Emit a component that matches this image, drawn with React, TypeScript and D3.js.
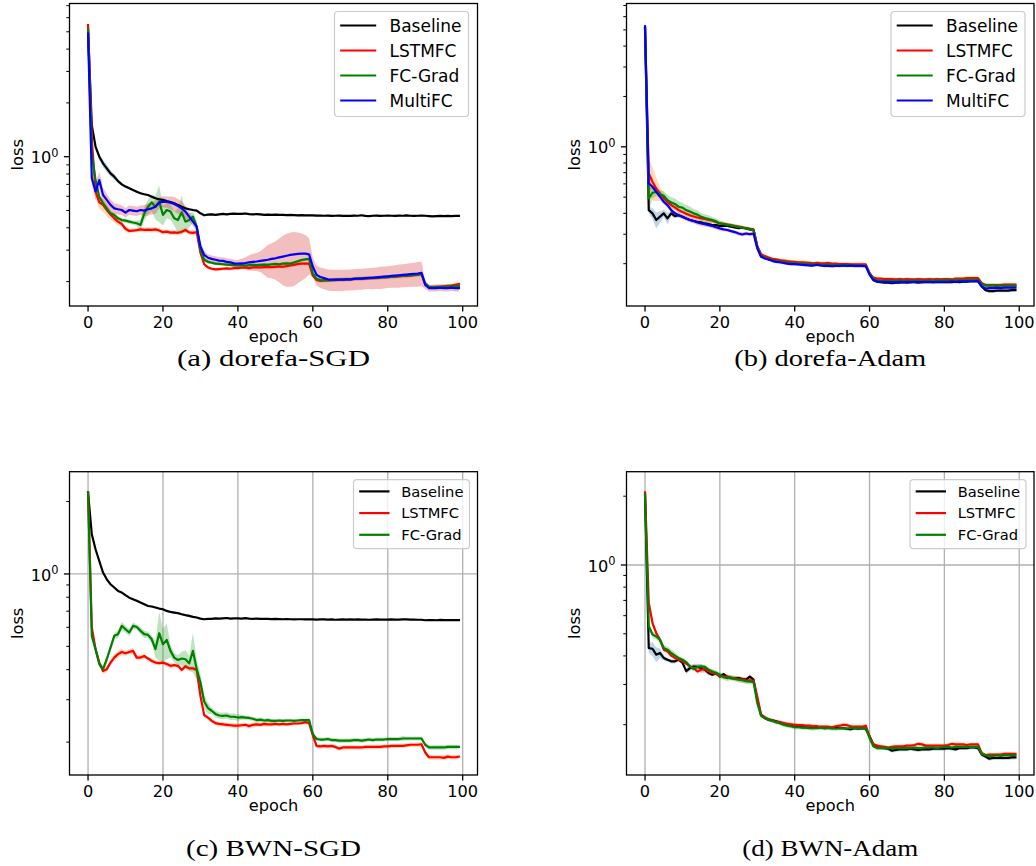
import React from 'react';
import * as d3 from 'd3';

// ---- data: mean loss per epoch (0..99) and its std ----

const A_BASELINE = [5.11,1.50,1.14,1.00,0.918,0.861,0.807,0.773,0.730,0.700,
  0.680,0.665,0.651,0.637,0.624,0.616,0.610,0.597,0.585,0.577,
  0.573,0.565,0.558,0.548,0.537,0.525,0.514,0.508,0.503,0.499,
  0.482,0.470,0.474,0.476,0.472,0.476,0.478,0.476,0.479,0.480,
  0.478,0.479,0.481,0.477,0.476,0.477,0.475,0.473,0.474,0.473,
  0.474,0.472,0.473,0.471,0.472,0.471,0.470,0.471,0.469,0.470,
  0.469,0.468,0.468,0.467,0.468,0.466,0.467,0.468,0.466,0.467,
  0.466,0.468,0.467,0.470,0.466,0.465,0.467,0.468,0.466,0.467,
  0.468,0.467,0.466,0.468,0.467,0.469,0.467,0.466,0.467,0.468,
  0.467,0.465,0.463,0.465,0.466,0.465,0.466,0.465,0.466,0.466];
const A_LSTMFC = [5.45,1.25,0.640,0.555,0.537,0.503,0.475,0.452,0.433,0.420,
  0.395,0.384,0.386,0.388,0.392,0.389,0.391,0.389,0.392,0.386,
  0.378,0.381,0.376,0.377,0.375,0.380,0.389,0.377,0.375,0.378,
  0.290,0.250,0.240,0.236,0.234,0.235,0.236,0.237,0.236,0.238,
  0.238,0.239,0.240,0.238,0.240,0.241,0.240,0.241,0.242,0.241,
  0.242,0.243,0.242,0.244,0.246,0.248,0.251,0.252,0.252,0.252,
  0.216,0.204,0.202,0.203,0.203,0.204,0.204,0.205,0.205,0.206,
  0.206,0.207,0.207,0.208,0.208,0.209,0.209,0.210,0.211,0.211,
  0.212,0.213,0.213,0.214,0.215,0.215,0.216,0.217,0.218,0.220,
  0.192,0.186,0.186,0.187,0.187,0.188,0.189,0.190,0.192,0.194];
const A_FCGRAD = [5.15,1.05,0.740,0.597,0.548,0.514,0.482,0.472,0.452,0.442,
  0.439,0.433,0.428,0.424,0.415,0.480,0.525,0.555,0.525,0.560,
  0.472,0.503,0.493,0.452,0.442,0.488,0.433,0.442,0.462,0.406,
  0.300,0.265,0.258,0.255,0.252,0.251,0.250,0.249,0.248,0.247,
  0.246,0.247,0.246,0.247,0.248,0.247,0.248,0.249,0.248,0.250,
  0.251,0.250,0.252,0.253,0.252,0.256,0.260,0.264,0.266,0.268,
  0.222,0.207,0.204,0.203,0.204,0.204,0.205,0.205,0.205,0.206,
  0.206,0.207,0.208,0.208,0.209,0.209,0.210,0.210,0.211,0.212,
  0.212,0.213,0.214,0.215,0.216,0.216,0.217,0.218,0.219,0.221,
  0.195,0.187,0.186,0.186,0.186,0.187,0.187,0.188,0.188,0.189];
const A_MULTIFC = [4.89,0.757,0.640,0.740,0.610,0.573,0.537,0.514,0.508,0.503,
  0.486,0.503,0.499,0.495,0.503,0.499,0.508,0.514,0.525,0.553,
  0.560,0.558,0.553,0.544,0.530,0.514,0.493,0.462,0.433,0.406,
  0.314,0.282,0.272,0.268,0.265,0.262,0.261,0.258,0.256,0.253,
  0.252,0.253,0.254,0.256,0.258,0.259,0.261,0.263,0.265,0.268,
  0.270,0.273,0.276,0.279,0.282,0.284,0.286,0.287,0.287,0.284,
  0.242,0.218,0.212,0.209,0.206,0.205,0.205,0.205,0.205,0.206,
  0.206,0.207,0.208,0.208,0.209,0.210,0.210,0.211,0.212,0.213,
  0.214,0.215,0.216,0.217,0.218,0.219,0.220,0.221,0.222,0.224,
  0.192,0.184,0.184,0.184,0.185,0.184,0.184,0.185,0.184,0.184];

const A_BASELINE_SD = [0.12,0.05,0.04,0.045,0.045,0.04,0.035,0.03,0.02,0.015,
  0.012,0.01,0.01,0.008,0.008,0.008,0.008,0.008,0.008,0.008,
  0.008,0.008,0.008,0.008,0.008,0.008,0.008,0.008,0.008,0.008,
  0.008,0.006,0.006,0.006,0.006,0.006,0.006,0.006,0.006,0.006,
  0.006,0.006,0.006,0.006,0.006,0.006,0.006,0.006,0.006,0.006,
  0.006,0.006,0.006,0.006,0.006,0.006,0.006,0.006,0.006,0.006,
  0.005,0.005,0.005,0.005,0.005,0.005,0.005,0.005,0.005,0.005,
  0.005,0.005,0.005,0.005,0.005,0.005,0.005,0.005,0.005,0.005,
  0.005,0.005,0.005,0.005,0.005,0.005,0.005,0.005,0.005,0.005,
  0.005,0.005,0.005,0.005,0.005,0.005,0.005,0.005,0.005,0.005];
const A_LSTMFC_SD = [0.3,0.1,0.05,0.045,0.045,0.04,0.03,0.025,0.02,0.015,
  0.015,0.012,0.01,0.01,0.012,0.012,0.012,0.012,0.012,0.012,
  0.012,0.012,0.012,0.012,0.012,0.012,0.012,0.012,0.012,0.015,
  0.01,0.006,0.005,0.005,0.005,0.005,0.005,0.005,0.005,0.005,
  0.005,0.005,0.005,0.005,0.005,0.005,0.005,0.005,0.005,0.005,
  0.005,0.005,0.005,0.005,0.005,0.005,0.005,0.005,0.005,0.005,
  0.005,0.005,0.005,0.005,0.005,0.005,0.005,0.005,0.005,0.005,
  0.005,0.005,0.005,0.005,0.005,0.005,0.005,0.005,0.005,0.005,
  0.005,0.005,0.005,0.005,0.005,0.005,0.005,0.005,0.005,0.005,
  0.005,0.005,0.005,0.005,0.005,0.005,0.005,0.005,0.005,0.005];
const A_FCGRAD_SD = [0.2,0.05,0.03,0.02,0.02,0.02,0.015,0.015,0.012,0.012,
  0.012,0.012,0.012,0.015,0.03,0.04,0.05,0.06,0.08,0.13,
  0.06,0.05,0.05,0.04,0.07,0.12,0.05,0.04,0.03,0.03,
  0.02,0.008,0.006,0.005,0.005,0.005,0.005,0.005,0.005,0.005,
  0.005,0.005,0.005,0.005,0.005,0.005,0.005,0.005,0.005,0.005,
  0.005,0.005,0.005,0.005,0.005,0.005,0.005,0.005,0.005,0.005,
  0.005,0.005,0.005,0.005,0.005,0.005,0.005,0.005,0.005,0.005,
  0.005,0.005,0.005,0.005,0.005,0.005,0.005,0.005,0.005,0.005,
  0.005,0.005,0.005,0.005,0.005,0.005,0.005,0.005,0.005,0.005,
  0.005,0.005,0.005,0.005,0.005,0.005,0.005,0.005,0.005,0.005];
const A_MULTIFC_SD = [0.2,0.06,0.07,0.08,0.06,0.05,0.04,0.035,0.035,0.03,
  0.03,0.03,0.03,0.03,0.03,0.035,0.04,0.04,0.045,0.04,
  0.04,0.04,0.045,0.05,0.05,0.05,0.04,0.03,0.025,0.02,
  0.02,0.015,0.012,0.012,0.012,0.012,0.012,0.012,0.012,0.012,
  0.012,0.015,0.02,0.025,0.028,0.03,0.035,0.045,0.055,0.06,
  0.065,0.075,0.085,0.092,0.095,0.095,0.09,0.085,0.078,0.065,
  0.03,0.028,0.028,0.028,0.028,0.028,0.028,0.028,0.028,0.028,
  0.028,0.028,0.028,0.028,0.028,0.028,0.029,0.029,0.03,0.03,
  0.03,0.03,0.031,0.032,0.032,0.033,0.033,0.034,0.035,0.035,
  0.01,0.008,0.008,0.008,0.008,0.008,0.008,0.008,0.008,0.008];

const B_BASELINE = [5.15,0.418,0.400,0.365,0.382,0.400,0.373,0.400,0.385,0.390,
  0.382,0.373,0.365,0.360,0.356,0.353,0.348,0.345,0.340,0.340,
  0.336,0.337,0.336,0.333,0.329,0.326,0.328,0.325,0.321,0.318,
  0.253,0.225,0.217,0.213,0.210,0.208,0.206,0.205,0.203,0.202,
  0.201,0.200,0.200,0.199,0.198,0.198,0.197,0.197,0.196,0.197,
  0.196,0.196,0.195,0.196,0.195,0.195,0.196,0.195,0.195,0.195,
  0.174,0.160,0.156,0.155,0.154,0.154,0.153,0.154,0.154,0.155,
  0.154,0.155,0.155,0.154,0.155,0.155,0.155,0.155,0.155,0.155,
  0.155,0.155,0.155,0.156,0.155,0.156,0.156,0.157,0.157,0.157,
  0.146,0.139,0.137,0.137,0.138,0.138,0.138,0.138,0.139,0.139];
const B_LSTMFC = [5.10,0.693,0.618,0.563,0.526,0.491,0.469,0.448,0.434,0.418,
  0.407,0.398,0.390,0.383,0.378,0.373,0.370,0.365,0.361,0.355,
  0.348,0.346,0.343,0.340,0.336,0.333,0.330,0.326,0.323,0.321,
  0.255,0.228,0.222,0.218,0.214,0.212,0.210,0.209,0.207,0.206,
  0.205,0.204,0.204,0.203,0.202,0.201,0.202,0.201,0.201,0.202,
  0.200,0.200,0.199,0.199,0.199,0.198,0.198,0.198,0.198,0.198,
  0.176,0.165,0.163,0.163,0.162,0.162,0.162,0.161,0.162,0.161,
  0.162,0.161,0.161,0.162,0.161,0.161,0.162,0.161,0.162,0.161,
  0.162,0.162,0.161,0.163,0.163,0.163,0.164,0.164,0.164,0.164,
  0.153,0.149,0.149,0.149,0.149,0.149,0.150,0.150,0.150,0.150];
const B_FCGRAD = [5.15,0.491,0.531,0.538,0.520,0.510,0.480,0.465,0.455,0.438,
  0.433,0.418,0.410,0.400,0.393,0.382,0.375,0.370,0.365,0.358,
  0.348,0.345,0.342,0.338,0.335,0.331,0.328,0.326,0.322,0.318,
  0.250,0.222,0.217,0.213,0.210,0.208,0.206,0.205,0.203,0.202,
  0.201,0.200,0.200,0.199,0.199,0.198,0.198,0.197,0.197,0.197,
  0.197,0.196,0.196,0.196,0.196,0.196,0.195,0.195,0.195,0.195,
  0.175,0.162,0.159,0.158,0.158,0.158,0.158,0.158,0.159,0.158,
  0.158,0.158,0.159,0.158,0.158,0.158,0.159,0.158,0.159,0.159,
  0.159,0.159,0.159,0.159,0.160,0.159,0.160,0.160,0.160,0.160,
  0.151,0.148,0.148,0.148,0.148,0.148,0.148,0.148,0.148,0.148];
const B_MULTIFC = [5.26,0.604,0.577,0.538,0.503,0.469,0.448,0.418,0.400,0.390,
  0.382,0.373,0.365,0.360,0.353,0.348,0.345,0.340,0.336,0.330,
  0.325,0.321,0.318,0.313,0.309,0.303,0.299,0.303,0.300,0.303,
  0.247,0.220,0.215,0.212,0.208,0.205,0.204,0.202,0.200,0.199,
  0.199,0.198,0.197,0.196,0.195,0.195,0.197,0.195,0.194,0.194,
  0.193,0.194,0.194,0.195,0.194,0.195,0.194,0.194,0.194,0.193,
  0.172,0.160,0.157,0.156,0.156,0.156,0.155,0.155,0.156,0.155,
  0.156,0.155,0.156,0.156,0.155,0.156,0.156,0.155,0.156,0.156,
  0.156,0.156,0.157,0.156,0.157,0.157,0.157,0.157,0.157,0.158,
  0.146,0.142,0.143,0.143,0.144,0.143,0.144,0.144,0.144,0.144];

const B_BASELINE_SD = [0.1,0.02,0.03,0.04,0.03,0.02,0.03,0.015,0.012,0.01,
  0.008,0.006,0.006,0.005,0.005,0.005,0.005,0.005,0.005,0.005,
  0.005,0.005,0.005,0.005,0.005,0.005,0.005,0.005,0.005,0.005,
  0.004,0.004,0.004,0.004,0.004,0.004,0.004,0.004,0.004,0.004,
  0.004,0.004,0.004,0.004,0.004,0.004,0.004,0.004,0.004,0.004,
  0.004,0.004,0.004,0.004,0.004,0.004,0.004,0.004,0.004,0.004,
  0.003,0.003,0.003,0.003,0.003,0.003,0.003,0.003,0.003,0.003,
  0.003,0.003,0.003,0.003,0.003,0.003,0.003,0.003,0.003,0.003,
  0.003,0.003,0.003,0.003,0.003,0.003,0.003,0.003,0.003,0.003,
  0.003,0.003,0.003,0.003,0.003,0.003,0.003,0.003,0.003,0.003];
const B_LSTMFC_SD = [0.3,0.15,0.14,0.09,0.05,0.035,0.025,0.02,0.018,0.016,
  0.015,0.015,0.015,0.015,0.015,0.013,0.012,0.012,0.01,0.01,
  0.008,0.008,0.008,0.008,0.008,0.008,0.008,0.008,0.008,0.008,
  0.005,0.005,0.005,0.005,0.005,0.005,0.005,0.005,0.005,0.005,
  0.005,0.005,0.005,0.005,0.005,0.005,0.005,0.005,0.005,0.005,
  0.005,0.005,0.005,0.005,0.005,0.005,0.005,0.005,0.005,0.005,
  0.004,0.004,0.004,0.004,0.004,0.004,0.004,0.004,0.004,0.004,
  0.004,0.004,0.004,0.004,0.004,0.004,0.004,0.004,0.004,0.004,
  0.004,0.004,0.004,0.004,0.004,0.004,0.004,0.004,0.004,0.004,
  0.004,0.004,0.004,0.004,0.004,0.004,0.004,0.004,0.004,0.004];
const B_FCGRAD_SD = [0.2,0.08,0.04,0.03,0.03,0.035,0.035,0.035,0.035,0.035,
  0.03,0.03,0.03,0.025,0.025,0.02,0.02,0.02,0.015,0.015,
  0.015,0.012,0.01,0.01,0.01,0.01,0.008,0.008,0.008,0.008,
  0.005,0.005,0.005,0.005,0.005,0.005,0.005,0.005,0.005,0.005,
  0.005,0.005,0.005,0.005,0.005,0.005,0.005,0.005,0.005,0.005,
  0.005,0.005,0.005,0.005,0.005,0.005,0.005,0.005,0.005,0.005,
  0.004,0.004,0.004,0.004,0.004,0.004,0.004,0.004,0.004,0.004,
  0.004,0.004,0.004,0.004,0.004,0.004,0.004,0.004,0.004,0.004,
  0.004,0.004,0.004,0.004,0.004,0.004,0.004,0.004,0.004,0.004,
  0.004,0.004,0.004,0.004,0.004,0.004,0.004,0.004,0.004,0.004];
const B_MULTIFC_SD = [0.2,0.05,0.02,0.015,0.015,0.015,0.015,0.012,0.012,0.012,
  0.012,0.012,0.012,0.012,0.012,0.012,0.012,0.01,0.01,0.01,
  0.01,0.008,0.008,0.008,0.008,0.008,0.008,0.008,0.008,0.008,
  0.004,0.004,0.004,0.004,0.004,0.004,0.004,0.004,0.004,0.004,
  0.004,0.004,0.004,0.004,0.004,0.004,0.004,0.004,0.004,0.004,
  0.004,0.004,0.004,0.004,0.004,0.004,0.004,0.004,0.004,0.004,
  0.003,0.003,0.003,0.003,0.003,0.003,0.003,0.003,0.003,0.003,
  0.003,0.003,0.003,0.003,0.003,0.003,0.003,0.003,0.003,0.003,
  0.003,0.003,0.003,0.003,0.003,0.003,0.003,0.003,0.003,0.003,
  0.003,0.003,0.003,0.003,0.003,0.003,0.003,0.003,0.003,0.003];

const C_BASELINE = [2.18,1.461,1.266,1.132,1.013,0.950,0.906,0.878,0.850,0.837,
  0.816,0.797,0.785,0.773,0.760,0.748,0.736,0.732,0.725,0.718,
  0.713,0.702,0.695,0.691,0.687,0.680,0.674,0.669,0.663,0.659,
  0.652,0.648,0.650,0.650,0.654,0.652,0.654,0.656,0.652,0.654,
  0.654,0.652,0.655,0.652,0.651,0.652,0.650,0.651,0.650,0.649,
  0.650,0.649,0.648,0.649,0.648,0.647,0.648,0.648,0.647,0.648,
  0.647,0.646,0.647,0.647,0.646,0.647,0.645,0.646,0.647,0.646,
  0.647,0.646,0.647,0.646,0.646,0.645,0.646,0.647,0.646,0.646,
  0.646,0.647,0.646,0.646,0.647,0.647,0.646,0.646,0.645,0.645,
  0.642,0.643,0.643,0.642,0.644,0.643,0.643,0.643,0.643,0.643];
const C_LSTMFC = [2.18,0.600,0.487,0.428,0.395,0.402,0.428,0.449,0.464,0.474,
  0.468,0.474,0.479,0.449,0.449,0.456,0.445,0.435,0.428,0.426,
  0.428,0.422,0.415,0.418,0.415,0.399,0.413,0.405,0.405,0.399,
  0.311,0.259,0.253,0.245,0.240,0.238,0.237,0.236,0.235,0.234,
  0.234,0.235,0.236,0.233,0.236,0.237,0.236,0.238,0.237,0.237,
  0.238,0.237,0.238,0.237,0.238,0.239,0.239,0.240,0.242,0.240,
  0.213,0.193,0.192,0.193,0.192,0.193,0.191,0.188,0.190,0.190,
  0.190,0.190,0.190,0.190,0.191,0.191,0.191,0.191,0.191,0.192,
  0.192,0.193,0.193,0.193,0.193,0.194,0.195,0.195,0.195,0.196,
  0.181,0.173,0.173,0.173,0.173,0.172,0.174,0.173,0.173,0.174];
const C_FCGRAD = [2.19,0.553,0.487,0.422,0.402,0.442,0.494,0.553,0.562,0.608,
  0.589,0.571,0.608,0.602,0.580,0.562,0.558,0.535,0.487,0.567,
  0.510,0.532,0.479,0.449,0.439,0.445,0.442,0.425,0.479,0.402,
  0.354,0.295,0.277,0.270,0.262,0.258,0.257,0.258,0.255,0.255,
  0.253,0.254,0.253,0.252,0.250,0.247,0.248,0.246,0.247,0.245,
  0.245,0.246,0.245,0.246,0.246,0.245,0.246,0.247,0.247,0.247,
  0.216,0.206,0.205,0.205,0.206,0.204,0.204,0.203,0.203,0.203,
  0.203,0.204,0.204,0.203,0.204,0.205,0.204,0.205,0.205,0.205,
  0.206,0.206,0.206,0.206,0.207,0.207,0.207,0.207,0.207,0.207,
  0.195,0.190,0.190,0.190,0.190,0.190,0.191,0.191,0.191,0.191];

const C_BASELINE_SD = [0.02,0.01,0.008,0.008,0.008,0.006,0.006,0.006,0.006,0.006,
  0.006,0.006,0.006,0.006,0.006,0.006,0.006,0.006,0.006,0.006,
  0.006,0.006,0.006,0.006,0.006,0.006,0.006,0.006,0.006,0.006,
  0.004,0.004,0.004,0.004,0.004,0.004,0.004,0.004,0.004,0.004,
  0.004,0.004,0.004,0.004,0.004,0.004,0.004,0.004,0.004,0.004,
  0.004,0.004,0.004,0.004,0.004,0.004,0.004,0.004,0.004,0.004,
  0.004,0.004,0.004,0.004,0.004,0.004,0.004,0.004,0.004,0.004,
  0.004,0.004,0.004,0.004,0.004,0.004,0.004,0.004,0.004,0.004,
  0.004,0.004,0.004,0.004,0.004,0.004,0.004,0.004,0.004,0.004,
  0.004,0.004,0.004,0.004,0.004,0.004,0.004,0.004,0.004,0.004];
const C_LSTMFC_SD = [0.05,0.02,0.015,0.012,0.012,0.012,0.012,0.012,0.015,0.015,
  0.012,0.012,0.015,0.012,0.012,0.01,0.01,0.01,0.01,0.01,
  0.01,0.01,0.01,0.008,0.008,0.01,0.008,0.008,0.008,0.008,
  0.008,0.006,0.005,0.005,0.005,0.005,0.005,0.005,0.005,0.006,
  0.006,0.005,0.005,0.005,0.006,0.006,0.005,0.005,0.005,0.005,
  0.004,0.004,0.004,0.004,0.004,0.004,0.004,0.004,0.004,0.004,
  0.004,0.004,0.004,0.004,0.004,0.004,0.004,0.004,0.004,0.004,
  0.004,0.004,0.004,0.004,0.004,0.004,0.004,0.004,0.004,0.004,
  0.004,0.004,0.004,0.004,0.004,0.004,0.004,0.004,0.004,0.004,
  0.004,0.004,0.004,0.004,0.004,0.004,0.004,0.004,0.004,0.004];
const C_FCGRAD_SD = [0.05,0.02,0.015,0.012,0.012,0.015,0.015,0.015,0.02,0.025,
  0.02,0.02,0.02,0.015,0.02,0.02,0.015,0.02,0.04,0.13,
  0.08,0.09,0.03,0.02,0.02,0.03,0.04,0.03,0.09,0.04,
  0.03,0.02,0.015,0.008,0.008,0.008,0.008,0.008,0.008,0.008,
  0.008,0.006,0.005,0.005,0.005,0.005,0.005,0.005,0.005,0.005,
  0.004,0.004,0.004,0.004,0.004,0.004,0.004,0.004,0.004,0.004,
  0.004,0.004,0.004,0.004,0.004,0.004,0.004,0.004,0.004,0.004,
  0.004,0.004,0.004,0.004,0.004,0.004,0.004,0.004,0.004,0.004,
  0.004,0.004,0.004,0.004,0.005,0.004,0.004,0.004,0.004,0.004,
  0.004,0.004,0.004,0.004,0.004,0.004,0.004,0.004,0.004,0.004];

const D_BASELINE = [2.05,0.433,0.430,0.405,0.412,0.392,0.385,0.379,0.379,0.385,
  0.374,0.343,0.354,0.360,0.358,0.354,0.348,0.337,0.331,0.337,
  0.325,0.333,0.323,0.320,0.320,0.320,0.317,0.315,0.325,0.315,
  0.257,0.221,0.214,0.210,0.209,0.207,0.205,0.203,0.200,0.198,
  0.196,0.196,0.195,0.195,0.194,0.194,0.195,0.194,0.193,0.194,
  0.193,0.194,0.193,0.193,0.192,0.191,0.193,0.192,0.193,0.192,
  0.178,0.164,0.161,0.159,0.158,0.157,0.154,0.155,0.156,0.156,
  0.156,0.157,0.156,0.155,0.156,0.156,0.156,0.157,0.157,0.157,
  0.157,0.158,0.157,0.156,0.158,0.158,0.158,0.159,0.159,0.158,
  0.148,0.145,0.142,0.143,0.143,0.143,0.143,0.143,0.144,0.144];
const D_LSTMFC = [2.08,0.682,0.557,0.504,0.471,0.426,0.419,0.401,0.392,0.385,
  0.379,0.370,0.360,0.354,0.342,0.348,0.351,0.342,0.337,0.334,
  0.327,0.325,0.325,0.320,0.320,0.317,0.315,0.312,0.313,0.312,
  0.266,0.221,0.216,0.211,0.209,0.206,0.205,0.203,0.202,0.201,
  0.200,0.199,0.199,0.198,0.198,0.197,0.197,0.196,0.196,0.196,
  0.195,0.197,0.198,0.200,0.199,0.197,0.196,0.196,0.196,0.198,
  0.178,0.164,0.162,0.161,0.160,0.159,0.160,0.161,0.161,0.161,
  0.162,0.162,0.163,0.165,0.164,0.162,0.162,0.162,0.162,0.162,
  0.162,0.163,0.165,0.164,0.164,0.164,0.163,0.164,0.164,0.164,
  0.150,0.147,0.148,0.148,0.148,0.148,0.149,0.149,0.149,0.149];
const D_FCGRAD = [2.03,0.539,0.496,0.487,0.471,0.433,0.426,0.412,0.401,0.392,
  0.385,0.376,0.360,0.351,0.358,0.360,0.358,0.348,0.342,0.337,
  0.331,0.323,0.320,0.322,0.317,0.315,0.313,0.310,0.309,0.308,
  0.249,0.219,0.214,0.211,0.208,0.205,0.203,0.200,0.198,0.197,
  0.195,0.195,0.194,0.194,0.193,0.193,0.193,0.194,0.193,0.193,
  0.193,0.192,0.193,0.193,0.192,0.194,0.193,0.193,0.193,0.193,
  0.175,0.161,0.158,0.158,0.158,0.158,0.158,0.158,0.158,0.158,
  0.158,0.158,0.159,0.158,0.158,0.159,0.159,0.159,0.158,0.159,
  0.160,0.160,0.159,0.160,0.160,0.160,0.160,0.160,0.160,0.160,
  0.149,0.147,0.146,0.146,0.147,0.146,0.147,0.147,0.147,0.147];

const D_BASELINE_SD = [0.05,0.02,0.03,0.03,0.02,0.01,0.008,0.008,0.008,0.008,
  0.008,0.01,0.01,0.01,0.012,0.015,0.01,0.008,0.006,0.006,
  0.006,0.006,0.006,0.006,0.006,0.006,0.006,0.006,0.006,0.006,
  0.004,0.004,0.004,0.004,0.004,0.004,0.004,0.004,0.004,0.004,
  0.003,0.003,0.003,0.003,0.003,0.003,0.003,0.003,0.003,0.003,
  0.003,0.003,0.003,0.003,0.003,0.003,0.003,0.003,0.003,0.003,
  0.003,0.003,0.003,0.003,0.003,0.003,0.003,0.003,0.003,0.003,
  0.003,0.003,0.003,0.003,0.003,0.003,0.003,0.003,0.003,0.003,
  0.003,0.003,0.003,0.003,0.003,0.003,0.003,0.003,0.003,0.003,
  0.003,0.003,0.003,0.003,0.003,0.003,0.003,0.003,0.003,0.003];
const D_LSTMFC_SD = [0.08,0.05,0.02,0.01,0.008,0.008,0.008,0.008,0.008,0.008,
  0.008,0.008,0.008,0.008,0.008,0.01,0.01,0.01,0.01,0.008,
  0.008,0.008,0.008,0.008,0.008,0.01,0.01,0.01,0.008,0.008,
  0.004,0.004,0.004,0.004,0.004,0.004,0.004,0.004,0.004,0.004,
  0.004,0.004,0.004,0.004,0.004,0.004,0.004,0.004,0.004,0.004,
  0.004,0.004,0.004,0.004,0.004,0.004,0.004,0.004,0.004,0.004,
  0.003,0.003,0.003,0.003,0.003,0.003,0.003,0.003,0.003,0.003,
  0.003,0.003,0.003,0.003,0.003,0.003,0.003,0.003,0.003,0.003,
  0.003,0.003,0.003,0.003,0.003,0.003,0.003,0.003,0.003,0.003,
  0.003,0.003,0.003,0.003,0.003,0.003,0.003,0.003,0.003,0.003];
const D_FCGRAD_SD = [0.08,0.015,0.015,0.015,0.015,0.015,0.015,0.015,0.015,0.008,
  0.008,0.008,0.008,0.008,0.008,0.008,0.008,0.008,0.008,0.008,
  0.008,0.008,0.01,0.008,0.008,0.008,0.008,0.008,0.008,0.008,
  0.004,0.004,0.004,0.004,0.004,0.004,0.004,0.004,0.004,0.004,
  0.005,0.004,0.004,0.004,0.004,0.005,0.004,0.004,0.004,0.004,
  0.005,0.004,0.004,0.004,0.004,0.004,0.004,0.004,0.004,0.004,
  0.003,0.003,0.003,0.003,0.003,0.003,0.003,0.003,0.003,0.003,
  0.003,0.003,0.003,0.003,0.003,0.003,0.003,0.003,0.003,0.003,
  0.003,0.003,0.003,0.003,0.003,0.003,0.003,0.003,0.003,0.003,
  0.003,0.003,0.003,0.003,0.003,0.003,0.003,0.003,0.003,0.003];

const NAMES = ['Baseline', 'LSTMFC', 'FC-Grad', 'MultiFC'];
const CAPTIONS = ['(a) dorefa-SGD', '(b) dorefa-Adam', '(c) BWN-SGD', '(d) BWN-Adam'];

// ---- styles ----
const LINE_COLORS = ['#000000', '#ff0000', '#008000', '#0000ff'];
const BAND_COLORS = ['#1f77b4', '#ff7f0e', '#2ca02c', '#d62728'];
const SANS = "'DejaVu Sans', sans-serif";
const SERIF = "'Liberation Serif', 'DejaVu Serif', serif";

type Series = { name: string; line: string; band: string; values: number[]; sd: number[] };
type Legend = { fontSize: number; w: number; h: number; rowTop: number; rowGap: number; lineLen: number; textDx: number; inset: number };

const BIG_LEGEND: Legend = { fontSize: 17, w: 134, h: 105, rowTop: 14, rowGap: 25, lineLen: 36, textDx: 55, inset: 9 };
const SMALL_LEGEND: Legend = { fontSize: 14.7, w: 116, h: 69, rowTop: 11.7, rowGap: 21.7, lineLen: 30.3, textDx: 47.7, inset: 8 };

const mk = (vals: number[][], sds: number[][]): Series[] =>
  vals.map((v, i) => ({ name: NAMES[i], line: LINE_COLORS[i], band: BAND_COLORS[i], values: v, sd: sds[i] }));

const PANELS = [
  { id: 'a', caption: CAPTIONS[0], x0: 69.5, x1: 477.5, y0: 3.5, y1: 306, yDomain: [0.146, 7.2], grid: false,
    legend: BIG_LEGEND, capY: 366, capW: 193,
    series: mk([A_BASELINE, A_LSTMFC, A_FCGRAD, A_MULTIFC], [A_BASELINE_SD, A_LSTMFC_SD, A_FCGRAD_SD, A_MULTIFC_SD]) },
  { id: 'b', caption: CAPTIONS[1], x0: 626.5, x1: 1034, y0: 3.5, y1: 306, yDomain: [0.1117, 7.19], grid: false,
    legend: BIG_LEGEND, capY: 366, capW: 192,
    series: mk([B_BASELINE, B_LSTMFC, B_FCGRAD, B_MULTIFC], [B_BASELINE_SD, B_LSTMFC_SD, B_FCGRAD_SD, B_MULTIFC_SD]) },
  { id: 'c', caption: CAPTIONS[2], x0: 69.5, x1: 477.5, y0: 471.7, y1: 775, yDomain: [0.146, 2.66], grid: true,
    legend: SMALL_LEGEND, capY: 856, capW: 175,
    series: mk([C_BASELINE, C_LSTMFC, C_FCGRAD], [C_BASELINE_SD, C_LSTMFC_SD, C_FCGRAD_SD]) },
  { id: 'd', caption: CAPTIONS[3], x0: 626.5, x1: 1034, y0: 471.7, y1: 775, yDomain: [0.1205, 2.56], grid: true,
    legend: SMALL_LEGEND, capY: 856, capW: 176,
    series: mk([D_BASELINE, D_LSTMFC, D_FCGRAD], [D_BASELINE_SD, D_LSTMFC_SD, D_FCGRAD_SD]) },
];

function Panel({ p }: { p: typeof PANELS[number] }) {
  const x = d3.scaleLinear().domain([-4.95, 103.95]).range([p.x0, p.x1]);
  const y = d3.scaleLog().domain(p.yDomain).range([p.y1, p.y0]);
  const xTicks = x.ticks(5);
  const yTicks = y.ticks().filter(t => Math.abs(Math.log10(t)) > 1e-9);
  const major = 1;

  const line = d3.line<number>().x((_, i) => x(i)).y(v => y(v));
  const area = d3.area<[number, number]>()
    .x((_, i) => x(i))
    .y0(d => y(Math.max(d[0] - d[1], 0.01)))
    .y1(d => y(d[0] + d[1]));

  const L = p.legend;
  const lx = p.x1 - L.inset - L.w;
  const ly = p.y0 + 8;
  const cx = (p.x0 + p.x1) / 2;
  const cy = (p.y0 + p.y1) / 2;
  const clip = `clip-${p.id}`;

  return (
    <g fontFamily={SANS}>
      <defs>
        <clipPath id={clip}>
          <rect x={p.x0} y={p.y0} width={p.x1 - p.x0} height={p.y1 - p.y0} />
        </clipPath>
      </defs>

      {p.grid && (
        <g stroke="#b0b0b0" strokeWidth={1.3}>
          {xTicks.map(t => <line key={t} x1={x(t)} x2={x(t)} y1={p.y0} y2={p.y1} />)}
          <line x1={p.x0} x2={p.x1} y1={y(major)} y2={y(major)} />
        </g>
      )}

      <g clipPath={`url(#${clip})`}>
        {p.series.map(s => (
          <path key={s.name + 'band'} d={area(s.values.map((v, i) => [v, s.sd[i]] as [number, number])) || ''}
            fill={s.band} fillOpacity={0.3} stroke="none" />
        ))}
        {p.series.map(s => (
          <path key={s.name} d={line(s.values) || ''} fill="none" stroke={s.line} strokeWidth={2.2}
            strokeLinejoin="round" strokeLinecap="square" />
        ))}
      </g>

      {/* spines */}
      <rect x={p.x0} y={p.y0} width={p.x1 - p.x0} height={p.y1 - p.y0} fill="none" stroke="#000" strokeWidth={1.3} />

      {/* x axis */}
      {xTicks.map(t => (
        <g key={t}>
          <line x1={x(t)} x2={x(t)} y1={p.y1} y2={p.y1 + 5.6} stroke="#000" strokeWidth={1.3} />
          <text x={x(t)} y={p.y1 + 22} textAnchor="middle" fontSize={16.2}>{t}</text>
        </g>
      ))}
      <text x={cx} y={p.y1 + 35.5} textAnchor="middle" fontSize={16.2}>epoch</text>

      {/* y axis */}
      {yTicks.map(t => (
        <line key={t} x1={p.x0 - 3.2} x2={p.x0} y1={y(t)} y2={y(t)} stroke="#000" strokeWidth={1} />
      ))}
      <line x1={p.x0 - 5.6} x2={p.x0} y1={y(major)} y2={y(major)} stroke="#000" strokeWidth={1.3} />
      <text x={p.x0 - 11} y={y(major) + 6.7} textAnchor="end" fontSize={16.2}>
        <tspan>10</tspan>
        <tspan dy={-6.8} fontSize={11.4}>0</tspan>
      </text>
      <text transform={`translate(${p.x0 - 46.5},${cy}) rotate(-90)`} textAnchor="middle" fontSize={16.2}>loss</text>

      {/* legend */}
      <rect x={lx} y={ly} width={L.w} height={L.h} rx={3.4} fill="#fff" fillOpacity={0.8}
        stroke="#cccccc" strokeWidth={1.2} />
      {p.series.map((s, i) => {
        const ry = ly + L.rowTop + i * L.rowGap;
        return (
          <g key={s.name + 'leg'}>
            <line x1={lx + 5.7} x2={lx + 5.7 + L.lineLen} y1={ry} y2={ry} stroke={s.line} strokeWidth={2.2} />
            <text x={lx + L.textDx} y={ry + 0.365 * L.fontSize} fontSize={L.fontSize}>{s.name}</text>
          </g>
        );
      })}

      {/* caption */}
      <text x={cx} y={p.capY} textAnchor="middle" fontFamily={SERIF} fontSize={24}
        textLength={p.capW} lengthAdjust="spacingAndGlyphs">{p.caption}</text>
    </g>
  );
}

export default function App() {
  return (
    <svg width={1036} height={866} viewBox="0 0 1036 866"
      style={{ position: 'absolute', left: 0, top: 0, background: '#fff' }}>
      <rect width={1036} height={866} fill="#fff" />
      {PANELS.map(p => <Panel key={p.id} p={p} />)}
    </svg>
  );
}
